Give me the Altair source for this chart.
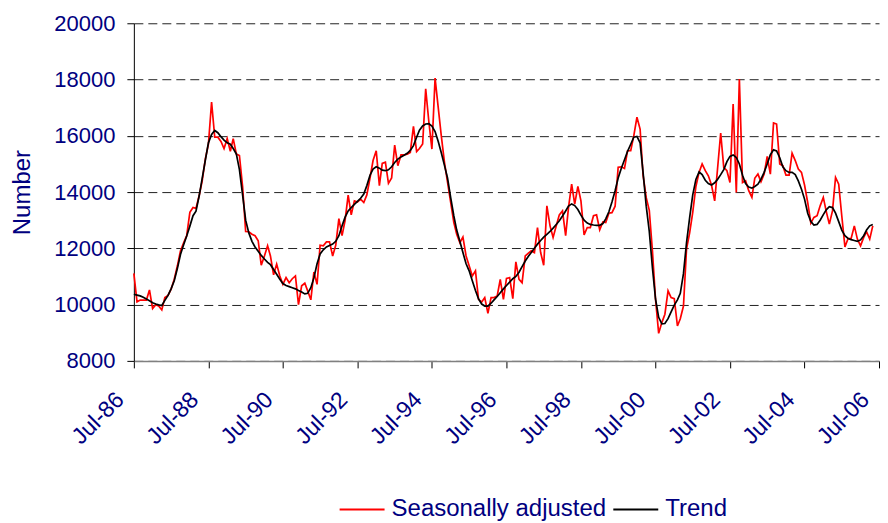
import altair as alt
import pandas as pd

# Monthly series, Jul-86 onwards
seasonally_adjusted = [
    11110, 10100, 10160, 10160, 10160, 10520, 9860, 10000, 9950, 9810,
    10250, 10330, 10550, 10900, 11380, 11910, 12200, 12450, 13280, 13450,
    13420, 13870, 14400, 15180, 15700, 17200, 15950, 15950, 15800, 15550,
    15900, 15450, 15900, 15350, 15300, 14200, 12600, 12590, 12500, 12450,
    12270, 11400, 11730, 12090, 11730, 11060, 11440, 11020, 10720, 10960,
    10780, 10920, 11020, 10000, 10670, 10760, 10490, 10170, 11160, 10720,
    12110, 12090, 12230, 12230, 11730, 12110, 13060, 12450, 12980, 13890,
    13190, 13690, 13650, 13750, 13630, 13900, 14500, 15120, 15470, 14230,
    15020, 15060, 14310, 14500, 15670, 14940, 15320, 15320, 15350, 15410,
    16340, 15440, 15550, 15710, 17670, 16500, 15530, 18050, 17000, 16000,
    15060, 14350, 13630, 12920, 12500, 12200, 12400, 11730, 11380, 11020,
    11200, 10190, 10090, 10250, 9690, 10250, 10250, 10310, 10900, 10190,
    10930, 10960, 10210, 11520, 10900, 10780, 11730, 11830, 11910, 11850,
    12740, 11850, 11400, 13510, 12800, 12390, 12800, 13190, 13330, 12450,
    13450, 14280, 13570, 14200, 13690, 12480, 12740, 12740, 13160, 13190,
    12660, 12940, 12920, 13250, 13270, 13500, 14880, 14900, 14840, 15470,
    15470, 16000, 16660, 16240, 14600, 13800, 13350, 11900, 10200, 8980,
    9360, 9660, 10490, 10250, 10210, 9240, 9500, 9950, 11970, 12560,
    13280, 14200, 14700, 15000, 14760, 14580, 14250, 13690, 14820, 16100,
    14880, 14760, 14340, 17130, 13990, 18020, 14340, 14400, 14050, 13810,
    14490, 14640, 14370, 14640, 15270, 14640, 16460, 16420, 15000, 14940,
    14600, 14600, 15380, 15120, 14820, 14700, 14250, 13630, 12900, 13100,
    13160, 13510, 13810, 13280, 12860, 13330, 14520, 14280, 13160, 12050,
    12350, 12350, 12800, 12330, 12090, 12390, 12590, 12330, 12800,
]

trend = [
    10370, 10340, 10310, 10260, 10200, 10140, 10070, 10020, 9990, 9970,
    10150, 10330, 10560, 10850, 11290, 11780, 12130, 12440, 12790, 13160,
    13320, 13860, 14490, 15140, 15750, 16050, 16190, 16110, 15970, 15850,
    15750, 15700, 15550, 15350, 14800, 13900, 13000, 12550, 12250, 12050,
    11900, 11750, 11620, 11500, 11420, 11250, 11080, 10900, 10750, 10680,
    10640, 10600, 10560, 10500, 10450, 10380, 10400, 10600, 10950, 11450,
    11800, 11950, 12050, 12100, 12150, 12250, 12450, 12800, 13100, 13330,
    13450, 13560, 13670, 13780, 13930, 14230, 14600, 14820, 14900, 14850,
    14780, 14760, 14790, 14900, 15050, 15170, 15250, 15310, 15380, 15480,
    15650, 15950, 16200, 16350, 16420, 16430, 16350, 16150, 15800, 15400,
    14950, 14500, 13800, 13150, 12650, 12250, 11850, 11450, 11200, 10850,
    10500, 10200, 10020, 9950, 9950, 10050, 10170, 10290, 10420, 10560,
    10680, 10800, 10920, 11000, 11150, 11350, 11550, 11720, 11850, 12000,
    12150, 12280, 12400, 12500, 12600, 12720, 12850, 12980, 13150, 13330,
    13500, 13580, 13520, 13380, 13180, 13000, 12900, 12850, 12830, 12820,
    12820, 12880, 13050, 13300, 13650, 14050, 14500, 14850, 15150, 15450,
    15700, 15950, 15980, 15750, 14700, 13500, 12600, 11300, 10200, 9550,
    9320, 9330, 9500, 9740, 9980, 10170, 10400, 11100, 12200, 13100,
    13900, 14450, 14720, 14620, 14420, 14300, 14250, 14330, 14450, 14620,
    14800, 15080, 15270, 15320, 15230, 15000, 14600, 14300, 14180, 14140,
    14200, 14280, 14460, 14700, 15000, 15330, 15500, 15460, 15220, 14900,
    14760, 14700, 14700, 14620, 14400, 14100, 13750, 13250, 12950, 12830,
    12850, 13000, 13200, 13380, 13480, 13450, 13250, 12950, 12650, 12450,
    12350, 12310, 12280, 12250, 12300, 12450, 12650, 12800, 12850,
]

series_names = ["Seasonally adjusted", "Trend"]
series_colors = ["#ff0000", "#000000"]
tick_years = [1986, 1988, 1990, 1992, 1994, 1996, 1998, 2000, 2002, 2004, 2006]
y_ticks = [8000, 10000, 12000, 14000, 16000, 18000, 20000]

dates = pd.date_range("1986-07-01", periods=len(seasonally_adjusted), freq="MS")
df = pd.DataFrame({
    "date": list(dates) + list(dates[:len(trend)]),
    "value": seasonally_adjusted + trend,
    "series": [series_names[0]] * len(seasonally_adjusted) + [series_names[1]] * len(trend),
})

FONT = "Liberation Sans"
NAVY = "#000080"

chart = alt.Chart(df).mark_line(strokeWidth=1.7).encode(
    x=alt.X(
        "date:T",
        scale=alt.Scale(
            domain=[alt.DateTime(year=1986, month=7, date=1), alt.DateTime(year=2006, month=7, date=1)],
            nice=False,
        ),
        axis=alt.Axis(
            values=[alt.DateTime(year=y, month=7, date=1) for y in tick_years],
            format="%b-%y",
            labelAngle=-45,
            labelAlign="right",
            labelBaseline="middle",
            labelFont=FONT,
            labelFontSize=23,
            labelColor=NAVY,
            labelPadding=28,
            labelOffset=-14,
            tickSize=7,
            tickColor="#000000",
            domainColor="#808080",
            domainWidth=1.5,
            grid=False,
            title=None,
        ),
    ),
    y=alt.Y(
        "value:Q",
        scale=alt.Scale(domain=[8000, 20000], nice=False),
        axis=alt.Axis(
            values=y_ticks,
            format="d",
            title="Number",
            titleFont=FONT,
            titleFontSize=24,
            titleFontWeight="normal",
            titleColor=NAVY,
            titlePadding=19,
            labelFont=FONT,
            labelFontSize=22,
            labelColor=NAVY,
            labelPadding=12,
            tickSize=7,
            tickColor="#000000",
            domainColor="#000000",
            grid=True,
            gridDash=[9, 5],
            gridColor="#222222",
            gridWidth=1,
        ),
    ),
    color=alt.Color(
        "series:N",
        scale=alt.Scale(domain=series_names, range=series_colors),
        legend=alt.Legend(
            title=None,
            orient="none",
            legendX=205,
            legendY=463,
            direction="horizontal",
            symbolType="stroke",
            symbolSize=2025,
            symbolStrokeWidth=2,
            labelFont=FONT,
            labelFontSize=24,
            labelColor=NAVY,
            labelLimit=0,
            labelOffset=6,
            columnPadding=3,
        ),
    ),
).properties(
    width=746,
    height=338,
    padding={"left": 2, "top": 4, "right": 0, "bottom": 0},
).configure_view(stroke=None)

chart.save("out.html", embed_options={"renderer": "svg", "actions": False})
